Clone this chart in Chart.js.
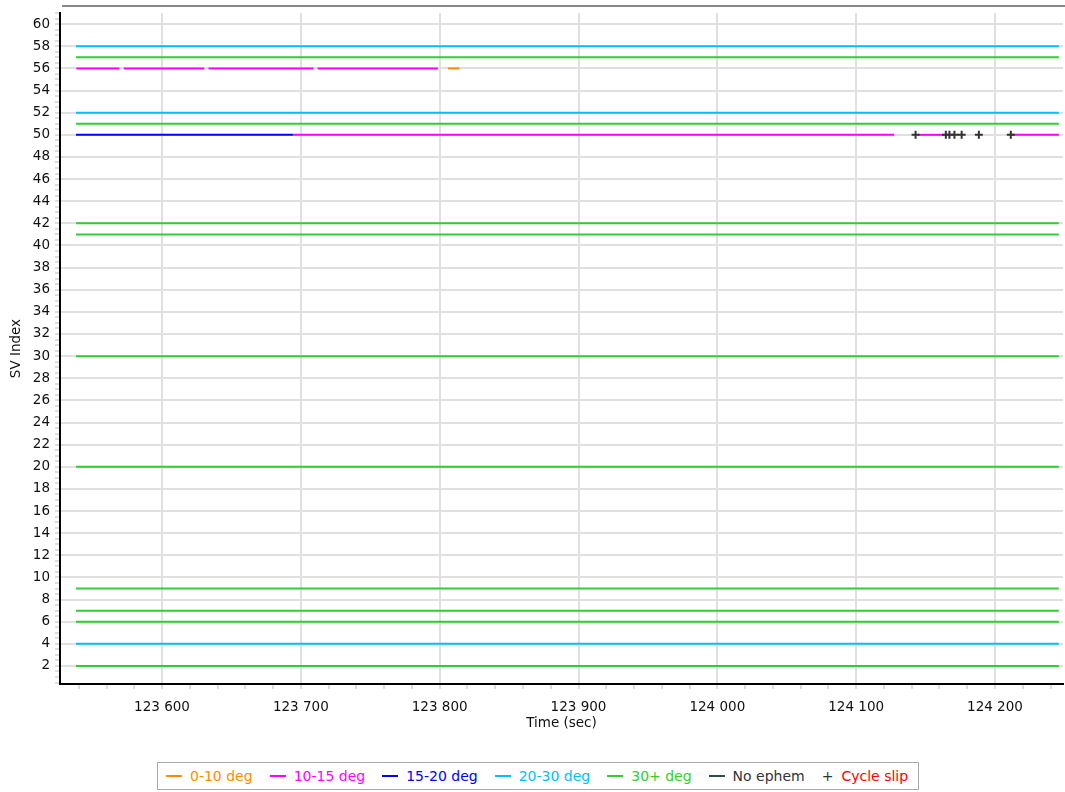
<!DOCTYPE html>
<html>
<head>
<meta charset="utf-8">
<script src="https://cdn.jsdelivr.net/npm/chart.js@4"></script>
<style>
  body { margin: 0; background: #fff; font-family: "DejaVu Sans", sans-serif; }
  #wrap { position: relative; width: 1065px; height: 745px; }
  #legend {
    position: absolute; left: 157px; top: 762px; height: 28px;
    border: 1px solid #aaa; box-sizing: border-box;
    display: flex; align-items: center; padding: 0 10px 0 8px;
    font-size: 14px; white-space: nowrap;
  }
  #legend .item { display: flex; align-items: center; margin-right: 17px; }
  #legend .item:last-child { margin-right: 0; }
  #legend .dash { width: 16px; height: 2px; margin-right: 8px; }
  #legend .plus { color: #333; margin-right: 8px; }
</style>
</head>
<body>
<div id="wrap"><canvas id="chart" width="1065" height="745"></canvas></div>
<div id="legend"></div>
<script>
// --- DATI ---
const bandNames = ["0-10 deg", "10-15 deg", "15-20 deg", "20-30 deg", "30+ deg", "No ephem"];
const bandColors = ["#ff8c00", "#ff00ff", "#0000ff", "#00bfff", "#32cd32", "#2f4f4f"];

const tStart = 123538.0;
const tEnd = 124246.0;

// satelliti visti per tutto l'intervallo (indice banda)
const svFull = [58, 57, 52, 51, 42, 41, 30, 20, 9, 7, 6, 4, 2];
const svFullBand = [3, 4, 3, 4, 4, 4, 4, 4, 4, 4, 4, 3, 4];

// SV 56 a tratti
const sv56Start = [123538.3, 123572.4, 123633.5, 123712.0, 123805.9];
const sv56End = [123569.3, 123630.5, 123709.1, 123798.7, 123814.3];
const sv56Band = [1, 1, 1, 1, 0];

// SV 50
const sv50Start = [123538.0, 123694.3, 124144.5, 124211.4];
const sv50End = [123694.3, 124127.4, 124164.6, 124246.0];
const sv50Band = [2, 1, 1, 1];

// cycle slip su SV 50
const slipTimes = [124142.8, 124164.6, 124167.2, 124170.8, 124176.0, 124188.4, 124211.4];
const slipSv = 50;

// --- DATASET ---
function segment(t0, t1, sv, band) {
  return {
    data: [{ x: t0, y: sv }, { x: t1, y: sv }],
    borderColor: bandColors[band],
    borderWidth: 2,
    pointRadius: 0,
    showLine: true,
    order: 1
  };
}

const datasets = [];
svFull.forEach((sv, i) => datasets.push(segment(tStart, tEnd, sv, svFullBand[i])));
sv56Start.forEach((t, i) => datasets.push(segment(t, sv56End[i], 56, sv56Band[i])));
sv50Start.forEach((t, i) => datasets.push(segment(t, sv50End[i], 50, sv50Band[i])));
datasets.push({
  data: slipTimes.map(t => ({ x: t, y: slipSv })),
  showLine: false,
  pointStyle: "cross",
  pointRadius: 4,
  borderColor: "#333",
  borderWidth: 2,
  order: 0
});

// cornice grigia in alto
const framePlugin = {
  id: "frame",
  beforeDraw(chart) {
    const c = chart.ctx;
    c.save();
    c.strokeStyle = "#888";
    c.lineWidth = 2;
    c.beginPath();
    c.moveTo(chart.chartArea.left + 2, 6);
    c.lineTo(chart.width, 6);
    c.stroke();
    c.restore();
  }
};

function fmtTime(v) {
  return Math.floor(v / 1000) + " " + String(v % 1000).padStart(3, "0");
}
function isEven(v) {
  const r = Math.round(v);
  return Math.abs(v - r) < 1e-6 && r % 2 === 0;
}

Chart.defaults.font.family = "DejaVu Sans";
Chart.defaults.font.size = 13.5;
Chart.defaults.color = "#111";

new Chart(document.getElementById("chart"), {
  type: "scatter",
  data: { datasets },
  plugins: [framePlugin],
  options: {
    responsive: false,
    animation: false,
    layout: { autoPadding: false, padding: { left: 0, top: 13, right: 2, bottom: 0 } },
    plugins: { legend: { display: false }, tooltip: { enabled: false } },
    scales: {
      x: {
        type: "linear",
        min: 123526.5,
        max: 124249.0,
        afterBuildTicks: (scale) => {
          const t = [];
          for (let v = 123540; v <= 124240; v += 20) t.push({ value: v });
          scale.ticks = t;
        },
        afterFit: (scale) => {
          scale.height = 61;
          scale.paddingLeft = 0;
          scale.paddingRight = 0;
        },
        ticks: {
          autoSkip: false,
          maxRotation: 0,
          padding: 10,
          callback: (v) => (v % 100 === 0 ? fmtTime(v) : "")
        },
        grid: {
          color: (ctx) => (ctx.tick && ctx.tick.value % 100 === 0 ? "#e0e0e0" : "rgba(0,0,0,0)"),
          lineWidth: 2,
          tickColor: "#bbb",
          tickWidth: 1,
          tickLength: 5
        },
        border: { color: "#000", width: 2 },
        title: { display: true, text: "Time (sec)", color: "#111", padding: { top: 0, bottom: 13 } }
      },
      y: {
        min: 0.37,
        max: 61,
        afterBuildTicks: (scale) => {
          const t = [];
          for (let v = 0.5; v <= 61; v += 0.5) t.push({ value: v });
          scale.ticks = t;
        },
        afterFit: (scale) => { scale.width = 60; },
        ticks: {
          autoSkip: false,
          padding: 5,
          callback: (v) => (isEven(v) ? String(Math.round(v)) : "")
        },
        grid: {
          color: (ctx) => (ctx.tick && isEven(ctx.tick.value) ? "#e0e0e0" : "rgba(0,0,0,0)"),
          lineWidth: 2,
          tickColor: "#bbb",
          tickWidth: 1,
          tickLength: 5
        },
        border: { color: "#000", width: 2 },
        title: { display: true, text: "SV Index", color: "#111", padding: { top: 8, bottom: 0 } }
      }
    }
  }
});

// --- LEGENDA ---
const legend = document.getElementById("legend");
bandNames.forEach((name, i) => {
  const item = document.createElement("div");
  item.className = "item";
  const textColor = i === 5 ? "#333" : bandColors[i];
  item.innerHTML = `<span class="dash" style="background:${bandColors[i]}"></span><span style="color:${textColor}">${name}</span>`;
  legend.appendChild(item);
});
const slip = document.createElement("div");
slip.className = "item";
slip.innerHTML = `<span class="plus">+</span><span style="color:#ff0000">Cycle slip</span>`;
legend.appendChild(slip);
</script>
</body>
</html>
